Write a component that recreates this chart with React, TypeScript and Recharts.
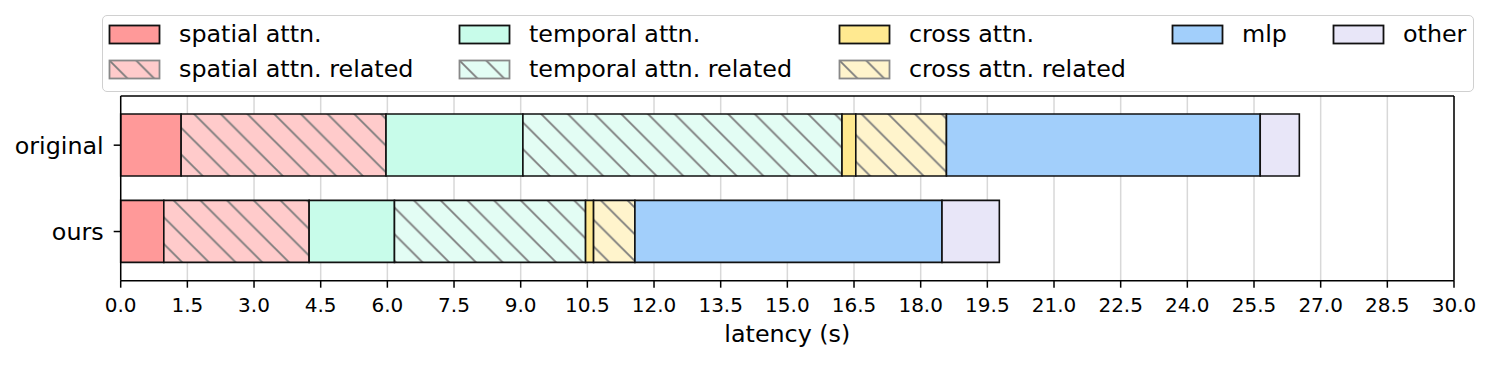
import React from 'react';
import { BarChart, Bar, XAxis, YAxis, CartesianGrid } from 'recharts';

const categories = ['original', 'ours'];
const spatialAttn = [1.36, 0.97];
const spatialRelated = [4.61, 3.27];
const temporalAttn = [3.08, 1.92];
const temporalRelated = [7.18, 4.3];
const crossAttn = [0.31, 0.18];
const crossRelated = [2.04, 0.93];
const mlp = [7.06, 6.91];
const other = [0.88, 1.29];
const xTicks = [0, 1.5, 3, 4.5, 6, 7.5, 9, 10.5, 12, 13.5, 15, 16.5, 18, 19.5, 21, 22.5, 24, 25.5, 27, 28.5, 30];

const seriesValues: Record<string, number[]> = {
  spatialAttn, spatialRelated, temporalAttn, temporalRelated, crossAttn, crossRelated, mlp, other,
};

const series = [
  { key: 'spatialAttn', label: 'spatial attn.', color: '#ff9999', hatched: false },
  { key: 'spatialRelated', label: 'spatial attn. related', color: '#ffcbcb', hatched: true },
  { key: 'temporalAttn', label: 'temporal attn.', color: '#c8fcea', hatched: false },
  { key: 'temporalRelated', label: 'temporal attn. related', color: '#e3fdf4', hatched: true },
  { key: 'crossAttn', label: 'cross attn.', color: '#ffe990', hatched: false },
  { key: 'crossRelated', label: 'cross attn. related', color: '#fff4cc', hatched: true },
  { key: 'mlp', label: 'mlp', color: '#a2cffb', hatched: false },
  { key: 'other', label: 'other', color: '#e8e6f8', hatched: false },
];

const data = categories.map((name, i) => {
  const row: Record<string, any> = { name };
  Object.keys(seriesValues).forEach((k) => { row[k] = seriesValues[k][i]; });
  return row;
});

const FONT = "'DejaVu Sans', sans-serif";
const FS = 23.8;
const H = 26.7;

const Hatch = ({ id, color }: { id: string; color: string }) => (
  <pattern id={id} patternUnits="userSpaceOnUse" width={H} height={H}>
    <rect x={0} y={0} width={H} height={H} fill={color} />
    <path
      d={`M-2,${H - 2} l4,4 M0,0 L${H},${H} M${H - 2},-2 l4,4`}
      stroke="#7c7c7c"
      strokeWidth={1.8}
    />
  </pattern>
);

// legend layout (columns of matplotlib legend, column-major order)
const legendCols = [
  { sx: 7, items: ['spatialAttn', 'spatialRelated'] },
  { sx: 357, items: ['temporalAttn', 'temporalRelated'] },
  { sx: 737, items: ['crossAttn', 'crossRelated'] },
  { sx: 1070, items: ['mlp'] },
  { sx: 1231, items: ['other'] },
];

const LegendBox = () => (
  <div
    style={{
      position: 'absolute',
      left: 94,
      top: 7,
      width: 1372,
      height: 77,
      border: '1.5px solid #d0d0d0',
      borderRadius: 5,
      boxSizing: 'border-box',
      background: '#fff',
      fontFamily: FONT,
      fontSize: FS,
      color: '#000',
    }}
  >
    {legendCols.map((col) =>
      col.items.map((k, r) => {
        const s = series.find((x) => x.key === k)!;
        const top = r === 0 ? 10 : 45;
        return (
          <div key={k}>
            <svg
              width={54}
              height={22}
              style={{ position: 'absolute', left: col.sx - 2, top: top - 2 }}
            >
              {s.hatched && (
                <defs>
                  <Hatch id={`lg-${k}`} color={s.color} />
                </defs>
              )}
              <rect
                x={1.5}
                y={1.5}
                width={50}
                height={18}
                fill={s.hatched ? `url(#lg-${k})` : s.color}
                stroke={s.hatched ? '#888' : '#111'}
                strokeWidth={1.8}
              />
            </svg>
            <div
              style={{
                position: 'absolute',
                left: col.sx + 69,
                top: top + 9,
                transform: 'translateY(-50%)',
                whiteSpace: 'nowrap',
                lineHeight: '1',
              }}
            >
              {s.label}
            </div>
          </div>
        );
      })
    )}
  </div>
);

export default function App() {
  return (
    <div style={{ position: 'relative', width: 1478, height: 357, fontFamily: FONT }}>
      <BarChart
        width={1478}
        height={357}
        data={data}
        layout="vertical"
        margin={{ top: 87, right: 31, left: 0, bottom: 14.3 }}
        style={{ fontFamily: FONT }}
      >
        <defs>
          {series.filter((s) => s.hatched).map((s) => (
            <Hatch key={s.key} id={`hatch-${s.key}`} color={s.color} />
          ))}
        </defs>
        <CartesianGrid horizontal={false} stroke="#d8d8d8" strokeWidth={1.5} />
        <XAxis
          type="number"
          domain={[0, 30]}
          ticks={xTicks}
          interval={0}
          tickFormatter={(v: number) => v.toFixed(1)}
          tick={{ fontSize: 20, fill: '#000', fontFamily: FONT }}
          tickSize={7}
          tickMargin={10}
          tickLine={{ stroke: '#000', strokeWidth: 1.5 }}
          axisLine={{ stroke: '#000', strokeWidth: 1.5 }}
          height={70}
          label={{ value: 'latency (s)', position: 'insideBottom', offset: 8.7, fontSize: FS, fill: '#000', fontFamily: FONT }}
        />
        <XAxis
          xAxisId="top"
          orientation="top"
          type="number"
          domain={[0, 30]}
          tick={false}
          tickLine={false}
          height={1}
          axisLine={{ stroke: '#000', strokeWidth: 1.5 }}
        />
        <YAxis
          type="category"
          dataKey="name"
          width={112.7}
          padding={{ top: 6, bottom: 6 }}
          tick={{ fontSize: FS, fill: '#000', fontFamily: FONT }}
          tickSize={7}
          tickMargin={10}
          tickLine={{ stroke: '#000', strokeWidth: 1.5 }}
          axisLine={{ stroke: '#000', strokeWidth: 1.5 }}
        />
        <YAxis
          yAxisId="right"
          orientation="right"
          type="category"
          dataKey="name"
          width={1}
          tick={false}
          tickLine={false}
          axisLine={{ stroke: '#000', strokeWidth: 1.5 }}
        />
        {series.map((s) => (
          <Bar
            key={s.key}
            dataKey={s.key}
            name={s.label}
            stackId="a"
            barSize={62}
            fill={s.hatched ? `url(#hatch-${s.key})` : s.color}
            stroke="#111"
            strokeWidth={1.6}
            isAnimationActive={false}
          />
        ))}
      </BarChart>
      <LegendBox />
    </div>
  );
}
